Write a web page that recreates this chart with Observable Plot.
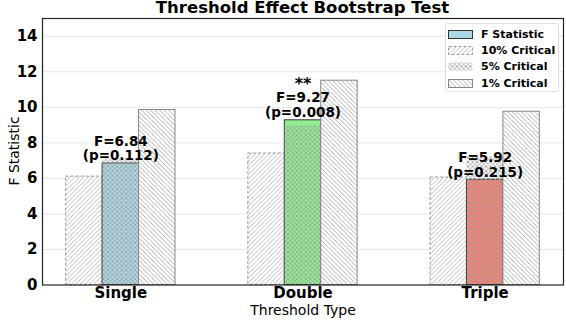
<!DOCTYPE html>
<html>
<head>
<meta charset="utf-8">
<script src="https://cdn.jsdelivr.net/npm/d3@7"></script>
<script src="https://cdn.jsdelivr.net/npm/@observablehq/plot@0.6"></script>
<style>
  body { margin: 0; background: #fff; font-family: "DejaVu Sans", sans-serif; }
  #chart { position: relative; width: 566px; height: 320px; overflow: hidden; }
  #chart > svg { position: absolute; left: 0; top: 0; font-family: "DejaVu Sans", sans-serif; }
  #title { position: absolute; left: 42px; width: 521px; top: -1px; text-align: center;
           font-weight: bold; font-size: 16.5px; line-height: 18px; color: #000; }
  #ylabel { position: absolute; left: 14px; top: 151px; transform: translate(-50%, -50%) rotate(-90deg);
            font-size: 14px; white-space: nowrap; color: #000; }
  #legend { position: absolute; left: 445px; top: 23px; width: 114px; height: 69px; box-sizing: border-box;
            border: 1px solid #ddd; border-radius: 3px; background: rgba(255,255,255,0.9); }
  .lg-row { position: absolute; left: 2px; height: 16px; display: flex; align-items: center; }
  .lg-row svg { display: block; margin-right: 8px; }
  .lg-row span { font-size: 11px; font-weight: bold; white-space: nowrap; }
</style>
</head>
<body>
<div id="chart">
  <div id="title">Threshold Effect Bootstrap Test</div>
  <div id="ylabel">F Statistic</div>
  <div id="legend"></div>
</div>
<script>
// Bootstrap results per threshold model
const categories = ["Single", "Double", "Triple"];
const fStats = [6.84, 9.27, 5.92];
const pValues = [0.112, 0.008, 0.215];
const crit10 = [6.1, 7.4, 6.05];
const crit5 = [7.1, 8.95, 7.2];
const crit1 = [9.85, 11.5, 9.75];
const fColors = ["#add8e6", "#90ee90", "#fa8072"];
const stars = ["", "**", ""];
const yTicks = [0, 2, 4, 6, 8, 10, 12, 14];

const rows = categories.map((cat, i) => ({
  i, cat, f: fStats[i], p: pValues[i], c10: crit10[i], c5: crit5[i], c1: crit1[i],
  color: fColors[i], star: stars[i]
}));

const w = 0.2; // bar width in group units

const plot = Plot.plot({
  width: 566,
  height: 320,
  marginTop: 18,
  marginBottom: 35.5,
  marginLeft: 42,
  marginRight: 3,
  x: {domain: [-0.43, 2.43], axis: null},
  y: {domain: [0, 15], axis: null},
  marks: [
    Plot.gridY(yTicks.slice(1), {stroke: "#bbb", strokeOpacity: 0.35}),
    // 10% critical values (left)
    Plot.rect(rows, {x1: d => d.i - 1.5 * w, x2: d => d.i - 0.5 * w, y1: d => 0, y2: "c10",
      fill: "url(#hatch-fwd)", stroke: "#999", strokeDasharray: "3,2", strokeWidth: 1}),
    // F statistics (centre)
    Plot.rect(rows, {x1: d => d.i - 0.5 * w, x2: d => d.i + 0.5 * w, y1: d => 0, y2: "f",
      fill: d => d.color, stroke: "#333", strokeWidth: 1}),
    // 5% critical values, cross-hatched over the F bar
    Plot.rect(rows, {x1: d => d.i - 0.5 * w, x2: d => d.i + 0.5 * w, y1: d => 0, y2: "c5",
      fill: "url(#hatch-cross)"}),
    // 1% critical values (right)
    Plot.rect(rows, {x1: d => d.i + 0.5 * w, x2: d => d.i + 1.5 * w, y1: d => 0, y2: "c1",
      fill: "url(#hatch-back)", stroke: "#888", strokeWidth: 1}),
    Plot.frame({stroke: "#222", strokeWidth: 1.2}),
    Plot.axisY(yTicks, {tickSize: 0, tickPadding: 5, fontSize: 15, fontWeight: "bold", label: null}),
    Plot.axisX([0, 1, 2], {tickSize: 0, tickPadding: 2, tickFormat: i => categories[i],
      fontSize: 15, fontWeight: "bold", label: null}),
    Plot.text(["Threshold Type"], {x: d => 1, frameAnchor: "bottom", dy: 25.5, lineAnchor: "middle",
      text: d => d, fontSize: 14}),
    // value annotations
    Plot.text(rows, {x: "i", y: "f", dy: -3, lineAnchor: "bottom", lineHeight: 1.1,
      text: d => `F=${d.f.toFixed(2)}\n(p=${d.p.toFixed(3)})`, fontSize: 13.5, fontWeight: "bold"}),
    Plot.text(rows.filter(d => d.star), {x: "i", y: "f", dy: -31, lineAnchor: "bottom",
      text: "star", fontSize: 16, fontWeight: "bold"})
  ]
});

// hatch patterns used by the critical-value bars and the legend
function addPatterns(svg) {
  const defs = d3.select(svg).insert("defs", ":first-child");
  const s = 4.5;
  const mk = (id, d, bg, stroke) => {
    const p = defs.append("pattern").attr("id", id).attr("patternUnits", "userSpaceOnUse")
      .attr("width", s).attr("height", s);
    if (bg) p.append("rect").attr("width", s).attr("height", s).attr("fill", bg);
    p.append("path").attr("d", d).attr("stroke", stroke).attr("stroke-width", 0.8).attr("fill", "none");
  };
  const fwd = `M0,${s} L${s},0 M-1,1 L1,-1 M${s - 1},${s + 1} L${s + 1},${s - 1}`;
  const back = `M0,0 L${s},${s} M-1,${s - 1} L1,${s + 1} M${s - 1},-1 L${s + 1},1`;
  mk("hatch-fwd", fwd, "#fff", "#aaa");
  mk("hatch-back", back, "#fff", "#999");
  mk("hatch-cross", fwd + " " + back, null, "#999");
  mk("hatch-cross-w", fwd + " " + back, "#fff", "#999");
}
addPatterns(plot);
document.getElementById("chart").prepend(plot);

// legend
const legendItems = [
  {label: "F Statistic", fill: fColors[0], stroke: "#333", dash: null},
  {label: "10% Critical", fill: "url(#hatch-fwd)", stroke: "#999", dash: "3,2"},
  {label: "5% Critical", fill: "url(#hatch-cross-w)", stroke: "none", dash: null},
  {label: "1% Critical", fill: "url(#hatch-back)", stroke: "#888", dash: null}
];
const legend = d3.select("#legend");
legendItems.forEach((it, k) => {
  const row = legend.append("div").attr("class", "lg-row").style("top", `${2 + k * 16.4}px`);
  const sw = row.append("svg").attr("width", 25).attr("height", 9);
  sw.append("rect").attr("x", 0.5).attr("y", 0.5).attr("width", 24).attr("height", 8)
    .attr("fill", it.fill).attr("stroke", it.stroke).attr("stroke-dasharray", it.dash);
  row.append("span").text(it.label);
});
</script>
</body>
</html>
